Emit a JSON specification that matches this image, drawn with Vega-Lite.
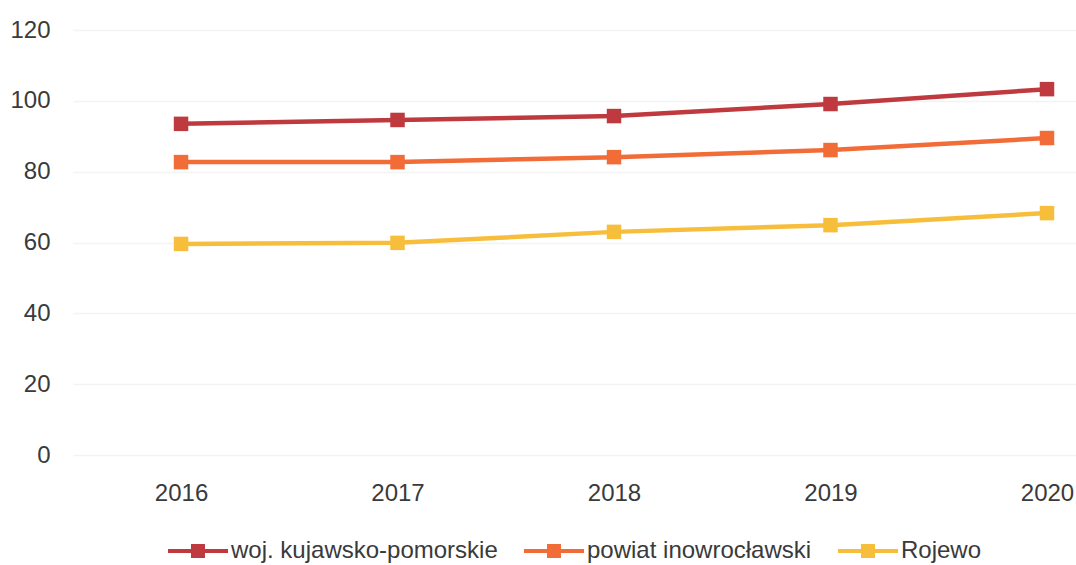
{
  "$schema": "https://vega.github.io/schema/vega-lite/v6.json",
  "width": 1003,
  "height": 425,
  "autosize": {"type": "none"},
  "padding": {"left": 73, "top": 30, "right": 0, "bottom": 110},
  "background": "white",
  "config": {
    "view": {"stroke": null},
    "font": "Liberation Sans",
    "axis": {"labelFont": "Liberation Sans", "labelFontSize": 24, "labelColor": "#3a3a3a", "domain": false, "ticks": false},
    "legend": {"labelFont": "Liberation Sans", "labelFontSize": 24, "labelColor": "#3a3a3a"}
  },
  "data": {
    "values": [
      {"year": 2016, "series": "woj. kujawsko-pomorskie", "value": 93.5},
      {"year": 2017, "series": "woj. kujawsko-pomorskie", "value": 94.6},
      {"year": 2018, "series": "woj. kujawsko-pomorskie", "value": 95.7},
      {"year": 2019, "series": "woj. kujawsko-pomorskie", "value": 99.1},
      {"year": 2020, "series": "woj. kujawsko-pomorskie", "value": 103.3},
      {"year": 2016, "series": "powiat inowrocławski", "value": 82.7},
      {"year": 2017, "series": "powiat inowrocławski", "value": 82.7},
      {"year": 2018, "series": "powiat inowrocławski", "value": 84.1},
      {"year": 2019, "series": "powiat inowrocławski", "value": 86.1},
      {"year": 2020, "series": "powiat inowrocławski", "value": 89.5},
      {"year": 2016, "series": "Rojewo", "value": 59.6},
      {"year": 2017, "series": "Rojewo", "value": 59.9},
      {"year": 2018, "series": "Rojewo", "value": 63.0},
      {"year": 2019, "series": "Rojewo", "value": 64.9},
      {"year": 2020, "series": "Rojewo", "value": 68.3}
    ]
  },
  "mark": {"type": "line", "strokeWidth": 4.5, "point": {"filled": true, "shape": "square", "size": 210, "opacity": 1}},
  "encoding": {
    "x": {
      "field": "year", "type": "quantitative",
      "scale": {"domain": [2015.501, 2020.134], "nice": false, "zero": false},
      "axis": {"values": [2016, 2017, 2018, 2019, 2020], "format": "d", "grid": false, "title": null, "labelPadding": 26, "labelFlush": false}
    },
    "y": {
      "field": "value", "type": "quantitative",
      "scale": {"domain": [0, 120], "nice": false},
      "axis": {"values": [0, 20, 40, 60, 80, 100, 120], "grid": true, "gridColor": "#f3f3f3", "gridWidth": 1.5, "title": null, "labelPadding": 23}
    },
    "color": {
      "field": "series", "type": "nominal",
      "scale": {"domain": ["woj. kujawsko-pomorskie", "powiat inowrocławski", "Rojewo"], "range": ["#BE3A3E", "#F26C38", "#F7BE3C"]},
      "legend": {
        "title": null,
        "orient": "none",
        "direction": "horizontal",
        "legendX": 95,
        "legendY": 491,
        "symbolType": "M-1,-0.067H1V0.067H-1Z M-0.233,-0.233H0.233V0.233H-0.233Z",
        "symbolSize": 3600,
        "symbolStrokeWidth": 0,
        "labelOffset": 3,
        "labelLimit": 500,
        "columnPadding": 26,
        "encode": {"symbols": {"update": {"fill": {"scale": "color", "field": "value"}, "strokeWidth": {"value": 0}, "opacity": {"value": 1}}}}
      }
    }
  }
}
